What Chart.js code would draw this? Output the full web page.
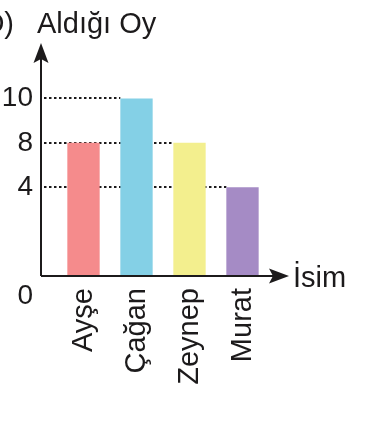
<!DOCTYPE html>
<html>
<head>
<meta charset="utf-8">
<script src="https://cdn.jsdelivr.net/npm/chart.js@4"></script>
<style>
  html, body { margin: 0; padding: 0; background: #fff; }
  #wrap { width: 368px; height: 432px; position: relative; }
</style>
</head>
<body>
<div id="wrap"><canvas id="oyChart"></canvas></div>
<script>
// data
const names = ['Ayşe', 'Çağan', 'Zeynep', 'Murat'];
const votes = [8, 10, 8, 4];
const barColors = ['#f58b8c', '#84d0e6', '#f3ef8e', '#a58bc5'];
const yTicks = [4, 8, 10];
const yTitle = 'Aldığı Oy';
const xTitle = 'İsim';

const FONT = "'Liberation Sans', Arial, sans-serif";
const INK = '#1c1a1b';

// the drawing is not to scale: the 4..8 band is squeezed to half height
function squeeze(v) {
    if (v <= 4) return v;
    if (v <= 8) return 4 + (v - 4) / 2;
    return 6 + (v - 8);
}
function unsqueeze(w) {
    if (w <= 4) return w;
    if (w <= 6) return 4 + (w - 4) * 2;
    return 8 + (w - 6);
}

class SqueezedScale extends Chart.LinearScale {
    getPixelForValue(value) {
        const lo = squeeze(this.min), hi = squeeze(this.max);
        return this.getPixelForDecimal((squeeze(value) - lo) / (hi - lo));
    }
    getValueForPixel(pixel) {
        const lo = squeeze(this.min), hi = squeeze(this.max);
        return unsqueeze(lo + this.getDecimalForPixel(pixel) * (hi - lo));
    }
}
SqueezedScale.id = 'squeezed';
SqueezedScale.defaults = {};
Chart.register(SqueezedScale);

// axes with arrows, dotted guide lines and the loose texts
const axesPlugin = {
    id: 'axesArrows',
    beforeDatasetsDraw(chart) {
        const { ctx, chartArea: a, scales: { y } } = chart;
        const axisX = a.left - 16;
        const bars = chart.getDatasetMeta(0).data;
        ctx.save();
        ctx.strokeStyle = INK;
        ctx.lineWidth = 2;
        ctx.setLineDash([2.5, 2.5]);
        yTicks.forEach(t => {
            const idx = votes.lastIndexOf(t);
            if (idx < 0) return;
            const bar = bars[idx];
            const py = Math.round(y.getPixelForValue(t));
            ctx.beginPath();
            ctx.moveTo(axisX + 3, py);
            ctx.lineTo(bar.x - bar.width / 2, py);
            ctx.stroke();
        });
        ctx.restore();
    },
    afterDatasetsDraw(chart) {
        const { ctx, chartArea: a } = chart;
        const axisX = a.left - 16;
        const axisY = a.bottom;
        const tipX = a.right + 20;
        ctx.save();
        ctx.strokeStyle = INK;
        ctx.fillStyle = INK;
        ctx.lineWidth = 2;
        ctx.beginPath();
        ctx.moveTo(axisX, axisY);
        ctx.lineTo(axisX, a.top + 8);
        ctx.moveTo(axisX, axisY);
        ctx.lineTo(tipX - 8, axisY);
        ctx.stroke();

        // arrow heads
        ctx.beginPath();
        ctx.moveTo(axisX, a.top);
        ctx.lineTo(axisX + 7.5, a.top + 20);
        ctx.lineTo(axisX, a.top + 16);
        ctx.lineTo(axisX - 7.5, a.top + 20);
        ctx.closePath();
        ctx.fill();
        ctx.beginPath();
        ctx.moveTo(tipX, axisY);
        ctx.lineTo(tipX - 20, axisY - 7.5);
        ctx.lineTo(tipX - 16, axisY);
        ctx.lineTo(tipX - 20, axisY + 7.5);
        ctx.closePath();
        ctx.fill();

        // zero below the corner
        ctx.font = '28px ' + FONT;
        ctx.textAlign = 'right';
        ctx.textBaseline = 'middle';
        ctx.fillText('0', a.left - 24, axisY + 20);

        // axis titles
        ctx.font = '29px ' + FONT;
        ctx.textBaseline = 'alphabetic';
        ctx.textAlign = 'left';
        ctx.fillText(xTitle, tipX + 4, axisY + 11);
        ctx.fillText(yTitle, 37, 33);
        ctx.textAlign = 'right';
        ctx.fillText('D)', 14, 33);
        ctx.restore();
    }
};

const ctx = document.getElementById('oyChart').getContext('2d');
new Chart(ctx, {
    type: 'bar',
    data: {
        labels: names,
        datasets: [{
            data: votes,
            backgroundColor: barColors,
            borderWidth: 0,
            barPercentage: 0.61,
            categoryPercentage: 1
        }]
    },
    options: {
        responsive: true,
        maintainAspectRatio: false,
        animation: false,
        events: [],
        layout: { padding: { left: 0, top: 43, right: 99, bottom: 0 } },
        plugins: {
            legend: { display: false },
            tooltip: { enabled: false }
        },
        scales: {
            x: {
                grid: { display: false, drawTicks: false },
                border: { display: false },
                ticks: {
                    font: { family: FONT, size: 29 },
                    color: INK,
                    minRotation: 90,
                    maxRotation: 90,
                    padding: 12,
                    autoSkip: false
                },
                afterFit: s => { s.height = 156; }
            },
            y: {
                type: 'squeezed',
                min: 0,
                max: 12.5,
                bounds: 'data',
                grid: { display: false, drawTicks: false },
                border: { display: false },
                ticks: {
                    font: { family: FONT, size: 28 },
                    color: INK,
                    padding: 24
                },
                afterBuildTicks: s => { s.ticks = yTicks.map(v => ({ value: v })); },
                afterFit: s => { s.width = 57; }
            }
        }
    },
    plugins: [axesPlugin]
});
</script>
</body>
</html>
